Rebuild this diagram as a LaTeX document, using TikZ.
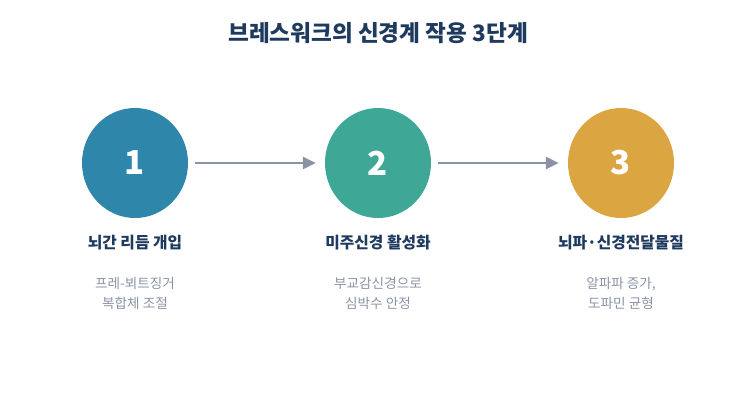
\documentclass[tikz,border=0pt]{standalone}
\usepackage{fontspec}
\setmainfont{Noto Sans CJK KR}
\usetikzlibrary{shapes.geometric,arrows.meta}
\definecolor{navy}{HTML}{1F3A5F}
\definecolor{greyblue}{HTML}{8A93A6}
\definecolor{stepA}{HTML}{2E86AB}
\definecolor{stepB}{HTML}{3FA796}
\definecolor{stepC}{HTML}{DBA541}
\tikzset{
  stage/.style={ellipse,minimum width=106pt,minimum height=110pt,inner sep=0pt,text=white,font=\fontsize{33}{33}\selectfont\bfseries},
  stagename/.style={text=navy,font=\fontsize{15.8}{18}\selectfont\bfseries},
  stagenote/.style={text=greyblue,align=center,font=\fontsize{13.6}{20}\selectfont},
  flow/.style={-{Triangle[length=13pt,width=12pt]},line width=2.6pt,draw=greyblue}
}
\begin{document}
\begin{tikzpicture}[x=1pt,y=-1pt]
\useasboundingbox (0,0) rectangle (756,405);
\node (title) at (378,33) [text=navy,font=\fontsize{22.6}{26}\selectfont\bfseries] {브레스워크의 신경계 작용 3단계};
\node (s1) at (135,163) [stage,fill=stepA] {1};
\node (s2) at (378,163) [stage,fill=stepB] {2};
\node (s3) at (621,163) [stage,fill=stepC] {3};
\node (n1) at (135,243) [stagename] {뇌간 리듬 개입};
\node (n2) at (378,243) [stagename] {미주신경 활성화};
\node (n3) at (621,243) [stagename] {뇌파·신경전달물질};
\node (d1) at (135,293) [stagenote] {프레-뵈트징거\\복합체 조절};
\node (d2) at (378,293) [stagenote] {부교감신경으로\\심박수 안정};
\node (d3) at (621,293) [stagenote] {알파파 증가,\\도파민 균형};
\draw[flow] (s1.east) ++(7,0) coordinate (a1) -- ([xshift=-9pt]s2.west);
\draw[flow] (s2.east) ++(7,0) coordinate (a2) -- ([xshift=-9pt]s3.west);
\end{tikzpicture}
\end{document}
